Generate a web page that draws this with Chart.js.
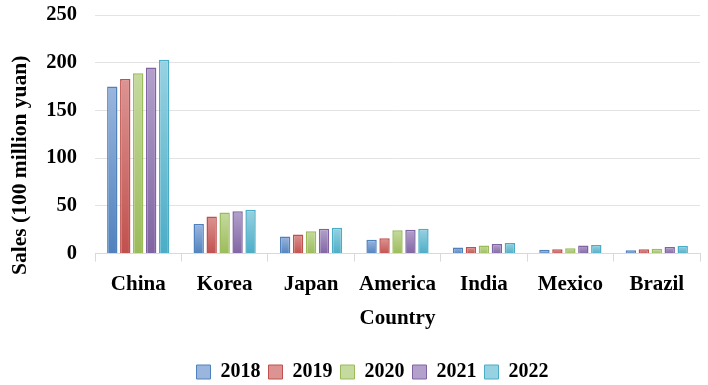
<!DOCTYPE html>
<html>
<head>
<meta charset="utf-8">
<script src="https://cdn.jsdelivr.net/npm/chart.js@4.4.1/dist/chart.umd.min.js"></script>
<style>
    html, body { margin: 0; padding: 0; background: #ffffff; }
    #wrap { width: 708px; height: 385px; position: relative; }
</style>
</head>
<body>
<div id="wrap"><canvas id="salesChart"></canvas></div>
<script>
// ================================
// Data
// ================================
const countries = ['China', 'Korea', 'Japan', 'America', 'India', 'Mexico', 'Brazil'];
const years = ['2018', '2019', '2020', '2021', '2022'];

const sales2018 = [175, 31, 18, 14.5, 6.5, 4, 3.5];
const sales2019 = [183, 39, 20, 16, 7, 4.5, 4.5];
const sales2020 = [189, 43, 23.5, 24.5, 8.5, 5.5, 5];
const sales2021 = [195, 44.5, 26, 25, 10, 8.5, 7];
const sales2022 = [203, 46, 27, 26, 11, 9, 8];

const yTicks = [0, 50, 100, 150, 200, 250];
const yTitle = 'Sales (100 million yuan)';

// Office palette: [border/dark, light top]
const palette = [
    ['#4f81bd', '#9bb6de'],
    ['#c0504d', '#dc9492'],
    ['#9bbb59', '#c5da9f'],
    ['#8064a2', '#b3a1cc'],
    ['#4bacc6', '#97d2e2']
];

const seriesValues = [sales2018, sales2019, sales2020, sales2021, sales2022];

const serif = "'Liberation Serif', 'Times New Roman', serif";

function barGradient(ctx, colors) {
    const chart = ctx.chart;
    if (!chart.chartArea || ctx.raw === undefined) return colors[0];
    const yScale = chart.scales.y;
    const top = yScale.getPixelForValue(ctx.raw);
    const bottom = yScale.getPixelForValue(0);
    const g = chart.ctx.createLinearGradient(0, top, 0, bottom + 1);
    g.addColorStop(0, colors[1]);
    g.addColorStop(1, colors[0]);
    return g;
}

// y axis title sits a bit below the plot centre, like the original
const yTitlePlugin = {
    id: 'yTitlePlugin',
    afterDraw(chart) {
        const c = chart.ctx;
        const area = chart.chartArea;
        c.save();
        c.translate(20, area.top + (area.bottom - area.top) * 0.63);
        c.rotate(-Math.PI / 2);
        c.font = 'bold 21.5px ' + serif;
        c.fillStyle = '#000000';
        c.textAlign = 'center';
        c.textBaseline = 'middle';
        c.fillText(yTitle, 0, 0);
        c.restore();
    }
};

document.addEventListener('DOMContentLoaded', function () {
    const ctx = document.getElementById('salesChart').getContext('2d');

    new Chart(ctx, {
        type: 'bar',
        data: {
            labels: countries,
            datasets: years.map((year, i) => ({
                label: year,
                data: seriesValues[i],
                backgroundColor: c => barGradient(c, palette[i]),
                borderColor: palette[i][0],
                borderWidth: 1.5,
                barPercentage: 0.8,
                categoryPercentage: 0.75
            }))
        },
        plugins: [yTitlePlugin],
        options: {
            responsive: true,
            maintainAspectRatio: false,
            animation: false,
            layout: { padding: { left: 45, right: 8, top: 15, bottom: -7 } },
            plugins: {
                tooltip: { enabled: false },
                legend: {
                    position: 'bottom',
                    labels: {
                        generateLabels: chart => years.map((year, i) => ({
                            text: year,
                            fillStyle: palette[i][1],
                            strokeStyle: palette[i][0],
                            lineWidth: 1,
                            datasetIndex: i,
                            fontColor: '#000000'
                        })),
                        boxWidth: 14,
                        boxHeight: 14,
                        padding: 8,
                        color: '#000000',
                        font: { family: serif, size: 20, weight: 'bold' }
                    }
                }
            },
            scales: {
                x: {
                    afterFit: scale => { scale.paddingLeft = 0; scale.paddingRight = 0; },
                    grid: {
                        offset: true,
                        drawOnChartArea: false,
                        drawTicks: true,
                        tickLength: 8,
                        color: '#d9d9d9'
                    },
                    border: { color: '#d9d9d9', width: 1 },
                    ticks: {
                        color: '#000000',
                        padding: 10,
                        font: { family: serif, size: 21, weight: 'bold' }
                    },
                    title: {
                        display: true,
                        text: 'Country',
                        color: '#000000',
                        padding: { top: -1, bottom: 23 },
                        font: { family: serif, size: 21, weight: 'bold' }
                    }
                },
                y: {
                    min: 0,
                    max: 250,
                    afterBuildTicks: axis => { axis.ticks = yTicks.map(v => ({ value: v })); },
                    afterFit: scale => { scale.width = 50; scale.paddingTop = 0; scale.paddingBottom = 0; },
                    grid: { color: '#e3e3e3', drawTicks: false },
                    border: { display: false },
                    ticks: {
                        color: '#000000',
                        padding: 18,
                        font: { family: serif, size: 20.5, weight: 'bold' }
                    }
                }
            }
        }
    });
});
</script>
</body>
</html>
